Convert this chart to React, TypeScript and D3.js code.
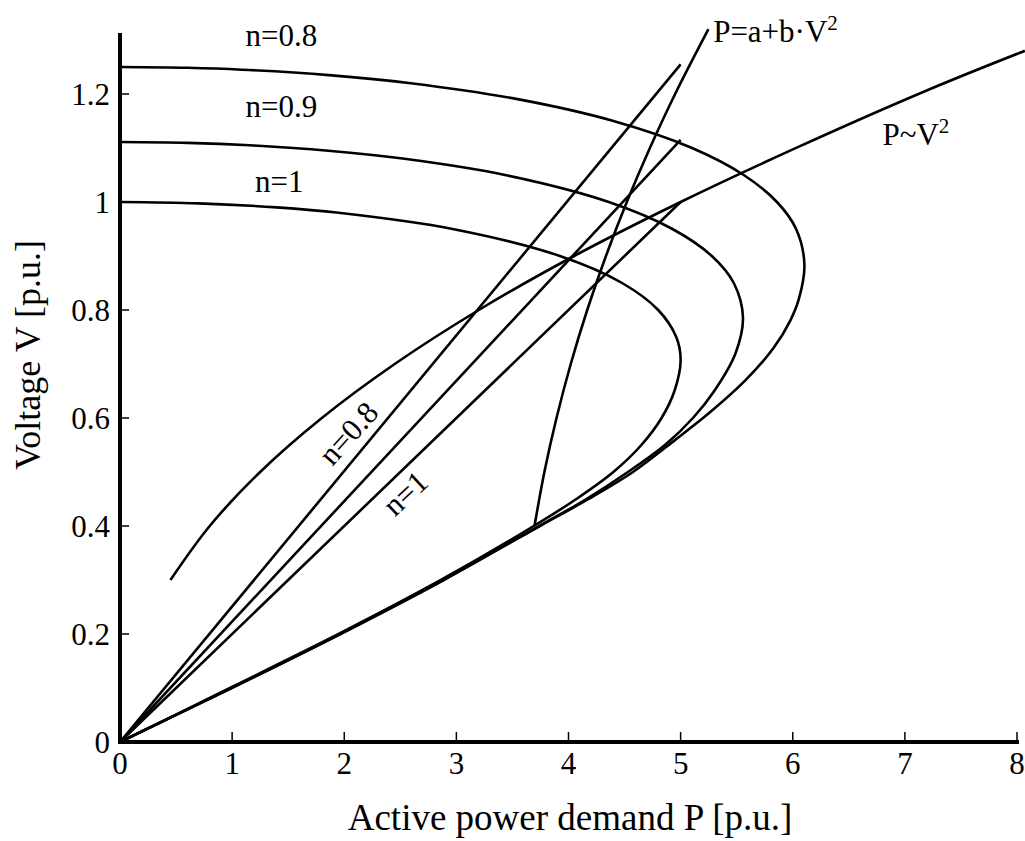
import React from "react";
import * as d3 from "d3";

// axis ticks
const xTicks = [0, 1, 2, 3, 4, 5, 6, 7, 8];
const yTicks = [0, 0.2, 0.4, 0.6, 0.8, 1, 1.2];

// nose curves [P, V] (upper branch -> nose -> lower branch)
const noseN1: [number, number][] = [
  [0, 1.0], [0.7, 0.9975], [1.397, 0.99], [1.95, 0.98], [2.966, 0.95], [3.923, 0.9],
  [4.478, 0.85], [4.8, 0.8], [4.961, 0.75], [5.0, 0.707], [4.945, 0.65], [4.83, 0.6],
  [4.65, 0.55], [4.4, 0.5], [4.07, 0.45], [3.69, 0.4], [2.862, 0.3], [1.96, 0.2],
  [0.995, 0.1], [0, 0],
];
const noseN09: [number, number][] = [
  [0, 1.111], [0.6, 1.1095], [1.157, 1.105], [1.858, 1.095], [2.538, 1.08], [3.434, 1.05],
  [4.359, 1.0], [4.927, 0.95], [5.278, 0.9], [5.474, 0.85], [5.556, 0.786], [5.49, 0.72],
  [5.3, 0.65], [5.11, 0.6], [4.86, 0.55], [4.53, 0.5], [4.16, 0.45], [3.74, 0.4],
  [2.889, 0.3], [1.967, 0.2], [0.996, 0.1], [0, 0],
];
const noseN08: [number, number][] = [
  [0, 1.25], [0.6, 1.2485], [1.086, 1.245], [1.863, 1.235], [2.594, 1.22], [3.557, 1.19],
  [4.401, 1.15], [5.102, 1.1], [5.563, 1.05], [5.859, 1.0], [6.03, 0.95], [6.104, 0.884],
  [6.054, 0.82], [5.977, 0.78], [5.83, 0.73], [5.579, 0.67], [5.259, 0.61], [4.955, 0.56],
  [4.575, 0.5], [4.18, 0.45], [3.745, 0.4], [2.87, 0.3], [1.95, 0.2], [0.98, 0.1], [0, 0],
];

// straight load lines through the origin
const lineN08: [number, number][] = [[0, 0], [5.0, 1.255]];
const lineN09: [number, number][] = [[0, 0], [5.0, 1.115]];
const lineN1: [number, number][] = [[0, 0], [5.0, 1.0]];

// P ~ V^2 characteristic
const curvePV2: [number, number][] = [
  [0.45, 0.3], [0.8, 0.4], [1.25, 0.5], [1.8, 0.6], [2.45, 0.7], [3.2, 0.8],
  [4.05, 0.9], [5.0, 1.0], [6.05, 1.102], [7.2, 1.207], [8.07, 1.28],
];

// P = a + b*V^2 characteristic
const curveABV2: [number, number][] = [
  [3.697, 0.4], [3.785, 0.5], [3.893, 0.6], [4.02, 0.7], [4.167, 0.8], [4.334, 0.9],
  [4.52, 1.0], [4.726, 1.1], [4.951, 1.2], [5.248, 1.32],
];

const W = 1025;
const H = 841;
const FONT = "'Liberation Serif', 'Times New Roman', serif";

export default function App() {
  const x = d3.scaleLinear().domain([0, 8]).range([120, 1017]);
  const y = d3.scaleLinear().domain([0, 1]).range([742, 202]);

  const smooth = d3
    .line<[number, number]>()
    .x((d) => x(d[0]))
    .y((d) => y(d[1]))
    .curve(d3.curveCatmullRom.alpha(0.5));
  const straight = d3
    .line<[number, number]>()
    .x((d) => x(d[0]))
    .y((d) => y(d[1]));

  const curves = [noseN1, noseN09, noseN08, curvePV2, curveABV2];
  const lines = [lineN08, lineN09, lineN1];

  return (
    <svg
      width={W}
      height={H}
      style={{ position: "absolute", left: 0, top: 0, background: "#fff" }}
      fontFamily={FONT}
    >
      {/* curves */}
      <g fill="none" stroke="#000" strokeWidth={2.6}>
        {curves.map((c, i) => (
          <path key={"c" + i} d={smooth(c) || ""} />
        ))}
        {lines.map((l, i) => (
          <path key={"l" + i} d={straight(l) || ""} />
        ))}
      </g>

      {/* axes */}
      <line x1={x(0)} x2={x(0)} y1={y(0) + 2} y2={33} stroke="#000" strokeWidth={4} />
      <line x1={x(0) - 2} x2={x(8) + 2} y1={y(0)} y2={y(0)} stroke="#000" strokeWidth={4} />
      {xTicks.slice(1).map((t) => (
        <line key={"xt" + t} x1={x(t)} x2={x(t)} y1={y(0)} y2={y(0) - 10} stroke="#000" strokeWidth={1.5} />
      ))}
      {yTicks.slice(1).map((t) => (
        <line key={"yt" + t} x1={x(0)} x2={x(0) + 9} y1={y(t)} y2={y(t)} stroke="#000" strokeWidth={1.5} />
      ))}

      {/* tick labels */}
      <g fontSize={31} fill="#000">
        {xTicks.map((t) => (
          <text key={"xl" + t} x={x(t)} y={774} textAnchor="middle">
            {t}
          </text>
        ))}
        {yTicks.map((t) => (
          <text key={"yl" + t} x={110} y={y(t)} dy="0.35em" textAnchor="end">
            {t}
          </text>
        ))}
      </g>

      {/* axis titles */}
      <text x={570} y={830} fontSize={37} textAnchor="middle">
        Active power demand P [p.u.]
      </text>
      <text transform={`translate(40,${355}) rotate(-90)`} fontSize={36} textAnchor="middle">
        Voltage V [p.u.]
      </text>

      {/* annotations */}
      <g fontSize={31} fill="#000">
        <text x={x(1.44)} y={y(1.289)} textAnchor="middle">n=0.8</text>
        <text x={x(1.44)} y={y(1.157)} textAnchor="middle">n=0.9</text>
        <text x={x(1.42)} y={y(1.019)} textAnchor="middle">n=1</text>
        <text x={x(5.29)} y={y(1.296)}>
          P=a+b·V<tspan fontSize={21} dy={-12}>2</tspan>
        </text>
        <text x={x(6.8)} y={y(1.106)}>
          P~V<tspan fontSize={21} dy={-12}>2</tspan>
        </text>
        <text
          transform={`translate(${x(2.034)},${y(0.572)}) rotate(-48)`}
          textAnchor="middle"
          dy="0.35em"
        >
          n=0.8
        </text>
        <text
          transform={`translate(${x(2.542)},${y(0.461)}) rotate(-43)`}
          textAnchor="middle"
          dy="0.35em"
        >
          n=1
        </text>
      </g>
    </svg>
  );
}
